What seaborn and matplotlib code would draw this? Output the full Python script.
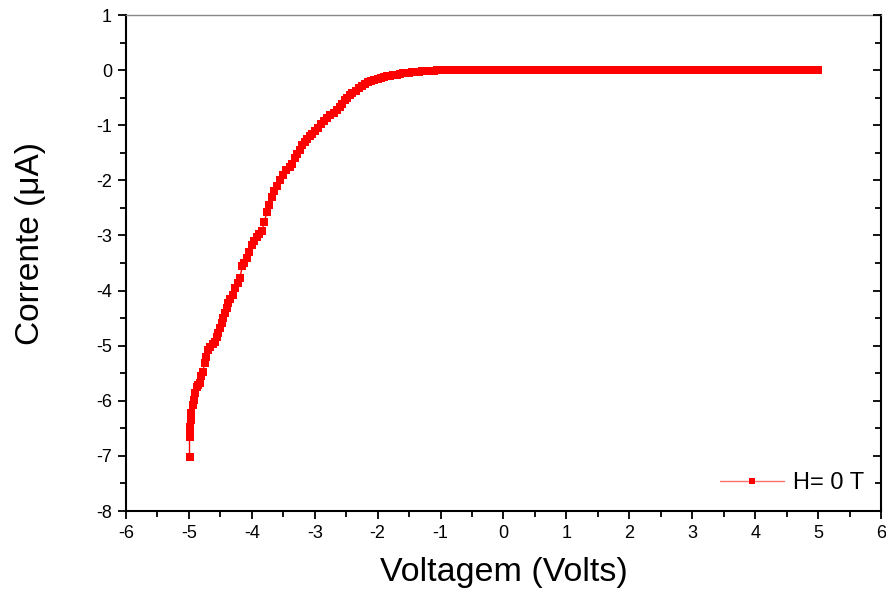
import matplotlib
matplotlib.use("Agg")
import matplotlib.pyplot as plt
import seaborn as sns
import pandas as pd
from matplotlib.ticker import MultipleLocator
from matplotlib.lines import Line2D

# ---- data ----
voltage_curve = [-4.99, -4.99, -4.98, -4.98, -4.97, -4.96, -4.94, -4.92, -4.90, -4.87,
                 -4.85, -4.83, -4.80, -4.78, -4.75, -4.72, -4.69, -4.66, -4.62, -4.59,
                 -4.56, -4.54, -4.51, -4.48, -4.45, -4.43, -4.40, -4.38, -4.34, -4.30,
                 -4.26, -4.22, -4.19, -4.15, -4.12, -4.08, -4.04, -4.00, -3.96, -3.92,
                 -3.88, -3.84, -3.80, -3.76, -3.72, -3.68, -3.64, -3.60, -3.55, -3.50,
                 -3.45, -3.40, -3.36, -3.32, -3.28, -3.24, -3.20, -3.16, -3.12, -3.08,
                 -3.04, -3.00, -2.95, -2.90, -2.85, -2.80, -2.75, -2.70, -2.65, -2.60,
                 -2.56, -2.52, -2.48, -2.44, -2.40, -2.35, -2.30, -2.25, -2.20, -2.15,
                 -2.10, -2.05, -2.00, -1.95, -1.90, -1.85, -1.80, -1.75, -1.70, -1.65,
                 -1.60, -1.55, -1.50, -1.45, -1.40, -1.35, -1.30, -1.25, -1.20, -1.15,
                 -1.10, -1.05, -1.00]
current_curve = [-7.02, -6.65, -6.59, -6.48, -6.35, -6.23, -6.08, -5.98, -5.86, -5.75,
                 -5.72, -5.68, -5.55, -5.48, -5.32, -5.21, -5.08, -5.03, -4.97, -4.94,
                 -4.85, -4.77, -4.68, -4.59, -4.50, -4.41, -4.32, -4.23, -4.15, -4.08,
                 -3.95, -3.87, -3.78, -3.55, -3.50, -3.40, -3.30, -3.18, -3.10, -3.03,
                 -2.98, -2.92, -2.75, -2.58, -2.45, -2.30, -2.20, -2.10, -2.00, -1.90,
                 -1.81, -1.75, -1.70, -1.60, -1.52, -1.45, -1.36, -1.30, -1.25, -1.20,
                 -1.15, -1.11, -1.05, -0.98, -0.93, -0.87, -0.82, -0.77, -0.72, -0.67,
                 -0.62, -0.55, -0.50, -0.45, -0.41, -0.37, -0.32, -0.28, -0.25, -0.22,
                 -0.20, -0.18, -0.16, -0.14, -0.12, -0.11, -0.10, -0.09, -0.08, -0.07,
                 -0.06, -0.05, -0.045, -0.04, -0.03, -0.025, -0.02, -0.015, -0.012, -0.01,
                 -0.008, -0.005, 0.0]
voltage_flat = [-0.9, -0.8, -0.7, -0.6, -0.5, -0.4, -0.3, -0.2, -0.1, 0.0,
                0.1, 0.2, 0.3, 0.4, 0.5, 0.6, 0.7, 0.8, 0.9, 1.0,
                1.1, 1.2, 1.3, 1.4, 1.5, 1.6, 1.7, 1.8, 1.9, 2.0,
                2.1, 2.2, 2.3, 2.4, 2.5, 2.6, 2.7, 2.8, 2.9, 3.0,
                3.1, 3.2, 3.3, 3.4, 3.5, 3.6, 3.7, 3.8, 3.9, 4.0,
                4.1, 4.2, 4.3, 4.4, 4.5, 4.6, 4.7, 4.8, 4.9, 5.0]
current_flat = [0.0, 0.0, 0.0, 0.0, 0.0, 0.0, 0.0, 0.0, 0.0, 0.0,
                0.0, 0.0, 0.0, 0.0, 0.0, 0.0, 0.0, 0.0, 0.0, 0.0,
                0.0, 0.0, 0.0, 0.0, 0.0, 0.0, 0.0, 0.0, 0.0, 0.0,
                0.0, 0.0, 0.0, 0.0, 0.0, 0.0, 0.0, 0.0, 0.0, 0.0,
                0.0, 0.0, 0.0, 0.0, 0.0, 0.0, 0.0, 0.0, 0.0, 0.0,
                0.0, 0.0, 0.0, 0.0, 0.0, 0.0, 0.0, 0.0, 0.0, 0.0]
series_label = "H= 0 T"
x_ticks = [-6, -5, -4, -3, -2, -1, 0, 1, 2, 3, 4, 5, 6]
y_ticks = [1, 0, -1, -2, -3, -4, -5, -6, -7, -8]

df = pd.DataFrame({"V": voltage_curve + voltage_flat,
                   "I": current_curve + current_flat})

sns.set_style("white")
plt.rcParams["font.family"] = ["Liberation Sans", "DejaVu Sans"]
plt.rcParams["text.color"] = "black"
plt.rcParams["axes.labelcolor"] = "black"
plt.rcParams["xtick.color"] = "black"
plt.rcParams["ytick.color"] = "black"

fig = plt.figure(figsize=(8.87, 5.96), dpi=100)
ax = fig.add_axes([0.142, 0.1426, 0.9932 - 0.142, 0.9748 - 0.1426])

sns.lineplot(data=df, x="V", y="I", sort=False, estimator=None, ax=ax,
             color="#ff0000", linewidth=1.0, marker="s", markersize=5.8,
             markeredgewidth=0, legend=False)

ax.set_xlim(-6, 6)
ax.set_ylim(-8, 1)
ax.set_xticks(x_ticks)
ax.set_yticks(y_ticks)
ax.set_xticklabels([str(t) for t in x_ticks])
ax.set_yticklabels([str(t) for t in y_ticks])
ax.xaxis.set_minor_locator(MultipleLocator(0.5))
ax.yaxis.set_minor_locator(MultipleLocator(0.5))
ax.tick_params(which="major", direction="out", length=6, width=1.3,
               labelsize=13, pad=4, color="black", labelcolor="black",
               left=True, bottom=True, right=False, top=False)
ax.tick_params(which="minor", direction="out", length=4, width=1.3,
               color="black", left=True, bottom=True, right=False, top=False)

ax.set_xlabel("Voltagem (Volts)", fontsize=24.5, labelpad=11, color="black")
ax.set_ylabel("Corrente (μA)", fontsize=24, color="black")
ax.yaxis.set_label_coords(-0.106, 0.54)

for side in ["left", "bottom", "right"]:
    ax.spines[side].set_color("black")
    ax.spines[side].set_linewidth(1.5)
ax.spines["top"].set_color("#888888")
ax.spines["top"].set_linewidth(1.0)

# right-side inward ticks
axr = ax.twinx()
axr.set_ylim(-8, 1)
axr.set_yticks(y_ticks)
axr.yaxis.set_minor_locator(MultipleLocator(0.5))
axr.tick_params(which="major", direction="in", length=6, width=1.3,
                color="black", labelright=False, right=True)
axr.tick_params(which="minor", direction="in", length=4, width=1.3,
                color="black", right=True)
for s in axr.spines.values():
    s.set_visible(False)

handle = Line2D([], [], color="#ff7070", linewidth=1.0, marker="s",
                markersize=4, markeredgewidth=0, markerfacecolor="#ff0000")
leg = ax.legend([handle], [series_label], loc="lower right", frameon=False,
                fontsize=17, handlelength=2.7, handletextpad=0.4,
                borderaxespad=0.3)
for t in leg.get_texts():
    t.set_color("black")

fig.savefig("out.png", dpi=100)
